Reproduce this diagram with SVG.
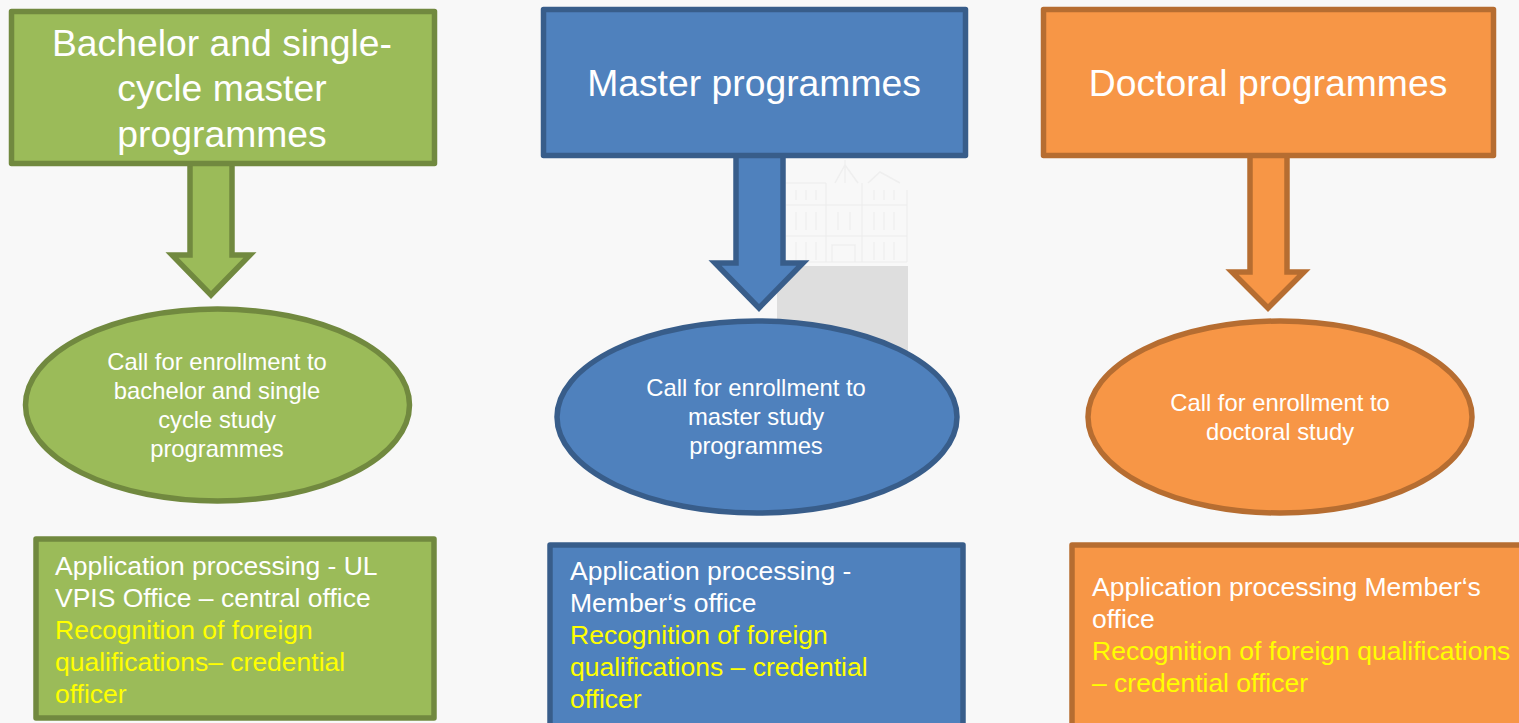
<svg xmlns="http://www.w3.org/2000/svg" width="1519" height="723" viewBox="0 0 1519 723">
<style>
text{font-family:"Liberation Sans",Arial,sans-serif;fill:#fff}
.t{font-size:37.300px;text-anchor:middle}
.e{font-size:23.800px;text-anchor:middle}
.b{font-size:26.500px}
.y{fill:#ff0}
.g{fill:#9bbb59;stroke:#71893f;stroke-width:5.500}
.u{fill:#4f81bd;stroke:#385d8a;stroke-width:5.500}
.o{fill:#f79646;stroke:#b66d31;stroke-width:5.500}
rect.g,rect.u,rect.o{stroke-linejoin:round}
.w{fill:none;stroke:#efefef;stroke-width:1.500}
</style>
<rect width="1519" height="723" fill="#f8f8f8"/>
<g id="watermark">
<rect x="777" y="266" width="131" height="90" fill="#dedede"/>
<path class="w" d="M786 183H826M786 205H907M786 236H907M786 262H907M826 183V262M862 183V262M907 190V262M845 160V183M835 183L845 165L858 183M868 183L880 172L900 183M796 190V200M806 190V200M816 190V200M874 190V200M884 190V200M894 190V200M796 212V230M806 212V230M816 212V230M874 212V230M884 212V230M894 212V230M796 242V260M806 242V260M816 242V260M874 242V260M884 242V260M894 242V260M838 212V230M850 212V230M832 262V245H855V262"/>
</g>
<g id="connectors">
<path id="arrow-bachelor" class="g" d="M190 163H232V255H250L211 295L172 255H190Z"/>
<path id="arrow-master" class="u" d="M736 155H783V263H803L759 308L715 263H736Z"/>
<path id="arrow-doctoral" class="o" d="M1250 155H1287V272H1304L1268 308L1232 272H1250Z"/>
</g>
<g id="node-bachelor-title">
<rect class="g" x="11.500" y="11.500" width="423" height="152"/>
<text class="t" x="222" y="56">Bachelor and single-</text>
<text class="t" x="222" y="101">cycle master</text>
<text class="t" x="222" y="147">programmes</text>
</g>
<g id="node-master-title">
<rect class="u" x="543.500" y="9.500" width="422" height="146"/>
<text class="t" x="754" y="96">Master programmes</text>
</g>
<g id="node-doctoral-title">
<rect class="o" x="1043.500" y="9.500" width="450" height="146"/>
<text class="t" x="1268" y="96">Doctoral programmes</text>
</g>
<g id="node-bachelor-call">
<ellipse class="g" cx="217.500" cy="405" rx="192" ry="96"/>
<text class="e" x="217" y="370">Call for enrollment to</text>
<text class="e" x="217" y="399">bachelor and single</text>
<text class="e" x="217" y="428">cycle study</text>
<text class="e" x="217" y="457">programmes</text>
</g>
<g id="node-master-call">
<ellipse class="u" cx="757" cy="417" rx="200" ry="96"/>
<text class="e" x="756" y="396">Call for enrollment to</text>
<text class="e" x="756" y="425">master study</text>
<text class="e" x="756" y="454">programmes</text>
</g>
<g id="node-doctoral-call">
<ellipse class="o" cx="1280" cy="417" rx="192" ry="96"/>
<text class="e" x="1280" y="411">Call for enrollment to</text>
<text class="e" x="1280" y="440">doctoral study</text>
</g>
<g id="node-bachelor-office">
<rect class="g" x="36" y="539" width="398" height="179"/>
<text class="b" x="55" y="575">Application processing - UL</text>
<text class="b" x="55" y="607">VPIS Office – central office</text>
<text class="b y" x="55" y="639">Recognition of foreign</text>
<text class="b y" x="55" y="671">qualifications– credential</text>
<text class="b y" x="55" y="703">officer</text>
</g>
<g id="node-master-office">
<rect class="u" x="550" y="545" width="413" height="185"/>
<text class="b" x="570" y="580">Application processing -</text>
<text class="b" x="570" y="612">Member‘s office</text>
<text class="b y" x="570" y="644">Recognition of foreign</text>
<text class="b y" x="570" y="676">qualifications – credential</text>
<text class="b y" x="570" y="708">officer</text>
</g>
<g id="node-doctoral-office">
<rect class="o" x="1072" y="545" width="460" height="185"/>
<text class="b" x="1092" y="596">Application processing Member‘s</text>
<text class="b" x="1092" y="628">office</text>
<text class="b y" x="1092" y="660">Recognition of foreign qualifications</text>
<text class="b y" x="1092" y="692">– credential officer</text>
</g>
</svg>
